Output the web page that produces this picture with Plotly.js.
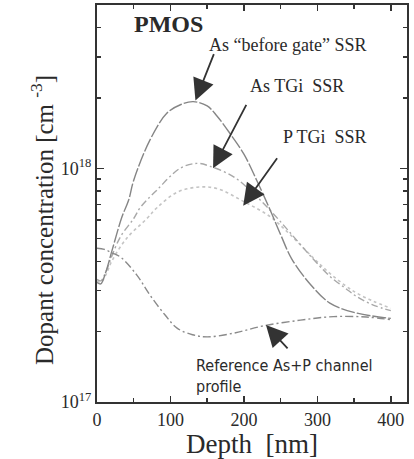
<!DOCTYPE html>
<html>
<head>
<meta charset="utf-8">
<script src="https://cdn.plot.ly/plotly-3.0.1.min.js"></script>
<style>html,body{margin:0;padding:0;background:#fff;}#chart{width:414px;height:459px;}</style>
</head>
<body>
<div id="chart"></div>
<script>
// Depth [nm] and dopant concentration [cm^-3]
const depthBeforeGate = [0, 5, 12, 20, 34, 43, 50, 72, 95, 115, 131, 150, 163, 181, 200, 218, 236, 250, 265, 290, 317, 354, 400];
const concBeforeGate = [3.25e17, 3.2e17, 3.6e17, 4.4e17, 6.2e17, 7.3e17, 8.9e17, 1.32e18, 1.72e18, 1.88e18, 1.93e18, 1.85e18, 1.68e18, 1.41e18, 1.15e18, 8.8e17, 6.6e17, 5.2e17, 4.1e17, 3.2e17, 2.65e17, 2.4e17, 2.28e17];

const depthAsTGi = [0, 5, 12, 20, 32, 50, 59, 82, 113, 136, 154, 186, 213, 236, 263, 294, 317, 338, 354, 376, 400];
const concAsTGi = [3.35e17, 3.3e17, 3.6e17, 4.2e17, 5.1e17, 6.1e17, 6.8e17, 8.1e17, 1.0e18, 1.05e18, 1.02e18, 9.2e17, 7.8e17, 6.6e17, 5.3e17, 4.1e17, 3.45e17, 3.07e17, 2.82e17, 2.6e17, 2.46e17];

const depthPTGi = [0, 5, 12, 20, 40, 68, 82, 109, 136, 163, 200, 236, 263, 294, 317, 338, 354, 376, 400];
const concPTGi = [3.3e17, 3.25e17, 3.5e17, 4.0e17, 5.0e17, 6.1e17, 6.8e17, 7.9e17, 8.3e17, 8.2e17, 7.2e17, 6.2e17, 5.2e17, 4.15e17, 3.55e17, 3.15e17, 2.92e17, 2.7e17, 2.52e17];

const depthReference = [0, 10, 20, 32, 54, 72, 93, 109, 130, 150, 186, 227, 277, 322, 367, 400];
const concReference = [4.55e17, 4.5e17, 4.35e17, 4.17e17, 3.5e17, 2.87e17, 2.35e17, 2.07e17, 1.94e17, 1.9e17, 1.97e17, 2.12e17, 2.24e17, 2.32e17, 2.31e17, 2.25e17];

const xTickVals = [0, 100, 200, 300, 400];
const xMinorVals = [50, 150, 250, 350];
const yTickVals = [1e17, 1e18];
const yTickText = ['10<sup>17</sup>', '10<sup>18</sup>'];
const yMinorVals = [2e17, 3e17, 4e17, 5e17, 6e17, 7e17, 8e17, 9e17, 2e18, 3e18, 4e18];

const serif = 'Liberation Serif, Times New Roman, serif';
const ink = '#2a2a2a';

const traces = [
  {x: depthPTGi, y: concPTGi, mode: 'lines', line: {color: '#c4c4c4', width: 1.6, dash: 'dot', shape: 'spline'}},
  {x: depthAsTGi, y: concAsTGi, mode: 'lines', line: {color: '#a8a8a8', width: 1.4, dash: '7px,3px,2px,3px', shape: 'spline'}},
  {x: depthBeforeGate, y: concBeforeGate, mode: 'lines', line: {color: '#858585', width: 1.4, dash: '14px,2px', shape: 'spline'}},
  {x: depthReference, y: concReference, mode: 'lines', line: {color: '#8a8a8a', width: 1.4, dash: '8px,3px,2px,3px', shape: 'spline'}}
];

const arrow = (x, y, ax, ay) => ({
  x: x, y: y, xref: 'x', yref: 'y', ax: ax, ay: ay, axref: 'pixel', ayref: 'pixel',
  showarrow: true, arrowhead: 2, arrowsize: 2.4, arrowwidth: 1.8, arrowcolor: '#333', text: ''
});

// plot-area geometry for paper-coordinate text placement
const H = 459 - 5 - 57, W = 414 - 97 - 7;
const px = (x) => (x - 97) / W;
const py = (y) => 1 - (y - 5) / H;
const label = (x, y, text, size, family) => ({
  x: px(x), y: py(y), xref: 'paper', yref: 'paper', xanchor: 'left', yanchor: 'middle',
  showarrow: false, align: 'left', text: text, font: {family: family || serif, size: size, color: ink}
});

const layout = {
  width: 414, height: 459,
  margin: {l: 97, r: 7, t: 5, b: 57},
  paper_bgcolor: '#fff', plot_bgcolor: '#fff',
  showlegend: false,
  font: {family: serif, color: ink, size: 18},
  xaxis: {
    range: [0, 422], tickvals: xTickVals, ticks: 'inside', ticklen: 6, tickwidth: 1.5,
    tickcolor: '#333', showline: true, linecolor: '#333', linewidth: 2, mirror: 'ticks',
    showgrid: false, zeroline: false, tickfont: {family: serif, size: 18, color: ink},
    minor: {tickvals: xMinorVals, ticks: 'inside', ticklen: 4, tickcolor: '#333', showgrid: false},
    title: {text: 'Depth  [nm]', font: {family: serif, size: 27, color: ink}, standoff: 6}
  },
  yaxis: {
    type: 'log', range: [17, 18.699], tickvals: yTickVals, ticktext: yTickText,
    ticks: 'inside', ticklen: 7, tickwidth: 1.5, tickcolor: '#333',
    showline: true, linecolor: '#333', linewidth: 2, mirror: 'ticks',
    showgrid: false, zeroline: false, tickfont: {family: serif, size: 18, color: ink},
    minor: {tickvals: yMinorVals, ticks: 'inside', ticklen: 4, tickcolor: '#333', showgrid: false}
  },
  annotations: [
    {x: px(42), y: py(220), xref: 'paper', yref: 'paper', xanchor: 'center', yanchor: 'middle',
     textangle: -90, showarrow: false, text: 'Dopant concentration [cm <sup>-3</sup>]',
     font: {family: serif, size: 25, color: ink}},
    label(132, 24, '<b>PMOS</b>', 24),
    label(207, 45, 'As “before gate” SSR', 18),
    label(248, 86, 'As TGi  SSR', 18),
    label(281, 137, 'P TGi  SSR', 18),
    label(194, 376, 'Reference As+P channel<br>profile', 16, 'DejaVu Sans Condensed, Liberation Sans Narrow, sans-serif'),
    arrow(134, 18.29, 19, -48),
    arrow(158, 18.0, 34, -65),
    arrow(199, 17.84, 35, -49),
    arrow(230, 17.33, 23, 25)
  ]
};

Plotly.newPlot('chart', traces, layout, {displayModeBar: false, staticPlot: true});
</script>
</body>
</html>
